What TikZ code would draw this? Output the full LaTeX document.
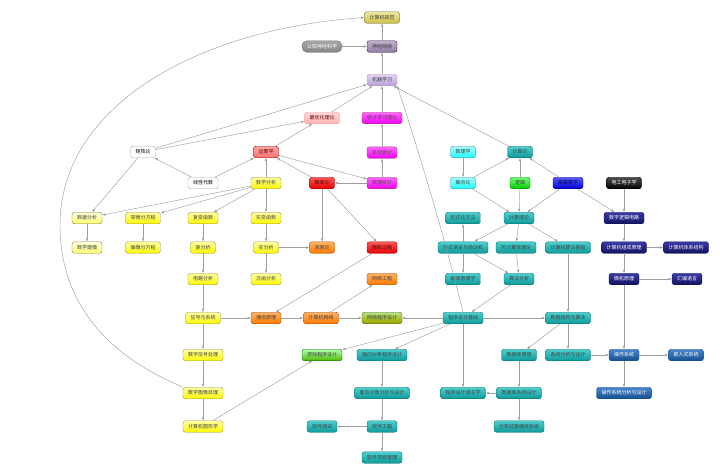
\documentclass[tikz,border=0pt]{standalone}
\usepackage{fontspec}
\setmainfont{Noto Sans CJK SC}
\usetikzlibrary{arrows.meta,positioning}

\definecolor{tealA}{HTML}{4CCFCF}
\definecolor{tealB}{HTML}{0F9A9A}
\definecolor{navyA}{HTML}{3A3AA8}
\definecolor{navyB}{HTML}{12125E}
\definecolor{steelA}{HTML}{4A86CC}
\definecolor{steelB}{HTML}{14508E}
\definecolor{mlA}{HTML}{E2D4F2}
\definecolor{mlB}{HTML}{B8A0D8}
\definecolor{nnA}{HTML}{BEB0CC}
\definecolor{nnB}{HTML}{8E7EA6}
\definecolor{cvA}{HTML}{EEE8A0}
\definecolor{cvB}{HTML}{CFC04A}

\tikzset{
  box/.style={rectangle,rounded corners=2.5pt,draw,line width=0.4pt,minimum height=11.5pt,
    inner xsep=5pt,inner ysep=1pt,font=\fontsize{5}{6}\selectfont},
  whitebox/.style={box,fill=white,draw=gray!70},
  ylwbox/.style={box,top color=yellow!35,bottom color=yellow!95!orange,draw=yellow!55!black,text=black!75},
  paleybox/.style={box,top color=yellow!15,bottom color=yellow!55,draw=yellow!40!black,text=black!75},
  redbox/.style={box,top color=red!65,bottom color=red!90!black,draw=red!60!black,text=red!30!black},
  pinkbox/.style={box,top color=red!15,bottom color=red!30,draw=red!40,text=red!40!black},
  salmonbox/.style={box,top color=red!35,bottom color=red!55,draw=red!55!black,text=red!40!black},
  orgbox/.style={box,top color=orange!60,bottom color=orange!95!red,draw=orange!60!black,text=black!75},
  magbox/.style={box,top color=magenta!60,bottom color=magenta!95!black,draw=magenta!55!black,text=magenta!25!black},
  tealbox/.style={box,top color=tealA,bottom color=tealB,draw=tealB!70!black,text=black!75},
  cyanbox/.style={box,top color=cyan!35,bottom color=cyan!90,draw=cyan!60!black,text=black!75},
  grnbox/.style={box,top color=green!55,bottom color=green!80!black,draw=green!50!black,text=black!75},
  bluebox/.style={box,top color=blue!65,bottom color=blue!85!black,draw=blue!50!black,text=blue!30!black},
  navybox/.style={box,top color=navyA,bottom color=navyB,draw=navyB,text=white},
  steelbox/.style={box,top color=steelA,bottom color=steelB,draw=steelB,text=white},
  edge/.style={draw=gray!75,line width=0.45pt,-{Latex[length=3.2pt,width=2.6pt]}}
}

\begin{document}
\begin{tikzpicture}[x=1pt,y=-1pt]
  \useasboundingbox (0,0) rectangle (720,475);

  \begin{scope}
    % top column
    \node[box,top color=cvA,bottom color=cvB,draw=olive!70!black,text=black!75] (CV) at (382,17.5) {计算机视觉};
    \node[box,top color=nnA,bottom color=nnB,draw=violet!40!black,text=black!75] (NN) at (382,46.5) {神经网络};
    \node[box,rounded corners=5pt,top color=gray!70,bottom color=gray!95,draw=gray!90!black,text=white] (CNS) at (322,46.5) {认知神经科学};
    \node[box,top color=mlA,bottom color=mlB,draw=violet!45,text=black!75] (ML) at (382,80) {机器学习};
    \node[pinkbox] (OPT) at (322,118) {最优化理论};
    \node[magbox] (SLT) at (382,118) {统计学习理论};
    \node[magbox] (MS) at (382,152.5) {多元统计};
    \node[magbox] (STAT) at (382,183) {数理统计};

    % mathematics
    \node[salmonbox] (OR) at (266,152) {运筹学};
    \node[whitebox] (MAT) at (143,152) {矩阵论};
    \node[whitebox] (LA) at (203,183) {线性代数};
    \node[ylwbox] (MA) at (266,183) {数学分析};
    \node[redbox] (PROB) at (322,183) {概率论};
    \node[paleybox] (DA) at (87,218) {数据分析};
    \node[paleybox] (MM) at (87,247.5) {数学建模};
    \node[ylwbox] (ODE) at (143,218) {常微分方程};
    \node[ylwbox] (PDE) at (143,247.5) {偏微分方程};
    \node[ylwbox] (CF) at (203,218) {复变函数};
    \node[ylwbox] (RF) at (266,218) {实变函数};
    \node[ylwbox] (CAN) at (203,247.5) {复分析};
    \node[ylwbox] (RAN) at (266,247.5) {实分析};
    \node[orgbox] (MEAS) at (322,247.5) {测度论};
    \node[ylwbox] (CIRC) at (203,279) {电路分析};
    \node[ylwbox] (FA) at (266,279) {泛函分析};
    \node[redbox] (SP) at (382,247.5) {随机过程};
    \node[orgbox] (QT) at (382,279) {网络工程};

    % signals and networks
    \node[ylwbox] (SS) at (203,318) {信号与系统};
    \node[orgbox] (COMM) at (266,318) {通信原理};
    \node[orgbox] (NET) at (321,318) {计算机网络};
    \node[box,top color=olive!45!green!40,bottom color=olive!75,draw=olive!60!black,text=black!75] (NP) at (382,318) {网络程序设计};
    \node[ylwbox] (DSP) at (203,355) {数字信号处理};
    \node[ylwbox] (DIP) at (203,393) {数字图像处理};
    \node[ylwbox] (CG) at (203,426.5) {计算机图形学};
    \node[box,top color=green!30,bottom color=green!55!black!60!lime,draw=green!40!black,text=black!75] (GAME) at (322,355) {游戏程序设计};

    % software
    \node[tealbox] (PF) at (463,318) {程序设计基础};
    \node[tealbox] (OOP) at (382,355) {面向对象程序设计};
    \node[tealbox] (OOD) at (382,393) {面向对象分析与设计};
    \node[tealbox] (SE) at (382,426.5) {软件工程};
    \node[tealbox] (ST) at (322,426.5) {软件测试};
    \node[tealbox] (SPM) at (382,457.5) {软件项目管理};
    \node[tealbox] (PL) at (463,393) {程序设计语言学};
    \node[tealbox] (DB) at (519,355) {数据库原理};
    \node[tealbox] (DBD) at (519,393) {数据库系统设计};
    \node[tealbox] (DDB) at (519,426.5) {分布式数据库系统};
    \node[tealbox] (DS) at (568,318) {数据结构与算法};
    \node[tealbox] (SYS) at (568,355) {系统分析与设计};

    % theory
    \node[cyanbox] (LOG) at (463,152) {数理学};
    \node[cyanbox] (SET) at (463,183) {集合论};
    \node[tealbox] (TC) at (520,152) {计算论};
    \node[grnbox] (GR) at (520,183) {逻辑};
    \node[bluebox] (DM) at (568,183) {离散数学};
    \node[tealbox] (TOC) at (519,218) {计算理论};
    \node[tealbox] (FM) at (463,218) {形式化方法};
    \node[tealbox] (FLA) at (463,247.5) {形式语言与自动机};
    \node[tealbox] (COMP) at (463,279) {编译原理学};
    \node[tealbox] (CT) at (516,247.5) {可计算性理论};
    \node[tealbox] (ALG) at (519,279) {算法分析};
    \node[tealbox] (DSA) at (568,247.5) {计算机算法基础};

    % hardware
    \node[box,top color=black!70,bottom color=black,draw=black,text=white] (EE) at (624,183) {电工电子学};
    \node[navybox] (DLC) at (624,218) {数字逻辑电路};
    \node[navybox] (COA) at (624,247.5) {计算机组成原理};
    \node[navybox] (ARCH) at (686,247.5) {计算机体系结构};
    \node[navybox] (MC) at (624,279) {微机原理};
    \node[navybox] (ASM) at (687,279) {汇编语言};
    \node[steelbox] (OS) at (624,355) {操作系统};
    \node[steelbox] (EMB) at (686,355) {嵌入式系统};
    \node[steelbox] (OSD) at (624,393) {操作系统分析与设计};
  \end{scope}

  \begin{scope}[every path/.style={edge}]
    \draw (CNS) -- (NN);
    \draw (NN) -- (CV);
    \draw (ML) -- (NN);
    \draw (DIP.north west) .. controls (130,365) and (60,320) .. (60,225)
          .. controls (60,110) and (190,30) .. (CV.west);
    \draw (OPT) -- (ML);
    \draw (MAT) -- (ML);
    \draw (MAT) -- (OPT);
    \draw (OR) -- (OPT);
    \draw (SLT) -- (ML);
    \draw (MS) -- (SLT);
    \draw (STAT) -- (MS);
    \draw (PF.north) .. controls (440,220) and (415,140) .. (ML.south east);
    \draw (TC) -- (ML);

    \draw (LA) -- (MAT);
    \draw (MAT) -- (DA);
    \draw (LA) -- (OR);
    \draw (MA) -- (OR);
    \draw (PROB) -- (OR);
    \draw (OR) -- (STAT);
    \draw (STAT) -- (PROB);
    \draw (PROB) -- (MEAS);
    \draw (PROB) -- (SP);
    \draw (MA) -- (DA);
    \draw (MA) -- (ODE);
    \draw (MA) -- (CF);
    \draw (MA) -- (RF);
    \draw (DA) -- (MM);
    \draw (ODE) -- (PDE);
    \draw (CF) -- (CAN);
    \draw (CAN) -- (CIRC);
    \draw (CIRC) -- (SS);
    \draw (RF) -- (RAN);
    \draw (RAN) -- (FA);
    \draw (RAN) -- (MEAS);

    \draw (SS) -- (COMM);
    \draw (COMM) -- (NET);
    \draw (NET) -- (NP);
    \draw (SP) -- (COMM);
    \draw (NET) -- (QT);
    \draw (SS) -- (DSP);
    \draw (DSP) -- (DIP);
    \draw (DIP) -- (CG);
    \draw (CG) -- (GAME);

    \draw (PF) -- (GAME);
    \draw (PF) -- (OOP);
    \draw (PF) -- (NP);
    \draw (PF) -- (DS);
    \draw (PF) -- (PL);
    \draw (OOP) -- (OOD);
    \draw (OOD) -- (SE);
    \draw (SE) -- (SPM);
    \draw (SE) -- (ST);
    \draw (DB) -- (DBD);
    \draw (DBD) -- (DDB);
    \draw (DBD) -- (PL);
    \draw (DS) -- (SYS);
    \draw (DS) -- (DB);
    \draw (SYS) -- (OS);

    \draw (LOG) -- (SET);
    \draw (SET) -- (TC);
    \draw (GR) -- (TC);
    \draw (DM) -- (TC);
    \draw (SET) -- (TOC);
    \draw (GR) -- (TOC);
    \draw (DM) -- (TOC);
    \draw (TOC) -- (FLA);
    \draw (TOC) -- (CT);
    \draw (TOC) -- (DSA);
    \draw (FLA) -- (FM);
    \draw (FLA) -- (COMP);
    \draw (FLA) -- (ALG);
    \draw (CT) -- (ALG);
    \draw (ALG) -- (PF);
    \draw (DSA) -- (DS);

    \draw (EE) -- (DLC);
    \draw (DM) -- (DLC);
    \draw (DLC) -- (COA);
    \draw (COA) -- (ARCH);
    \draw (COA) -- (MC);
    \draw (MC) -- (ASM);
    \draw (MC) -- (OS);
    \draw (OS) -- (EMB);
    \draw (OS) -- (OSD);
  \end{scope}
\end{tikzpicture}
\end{document}
